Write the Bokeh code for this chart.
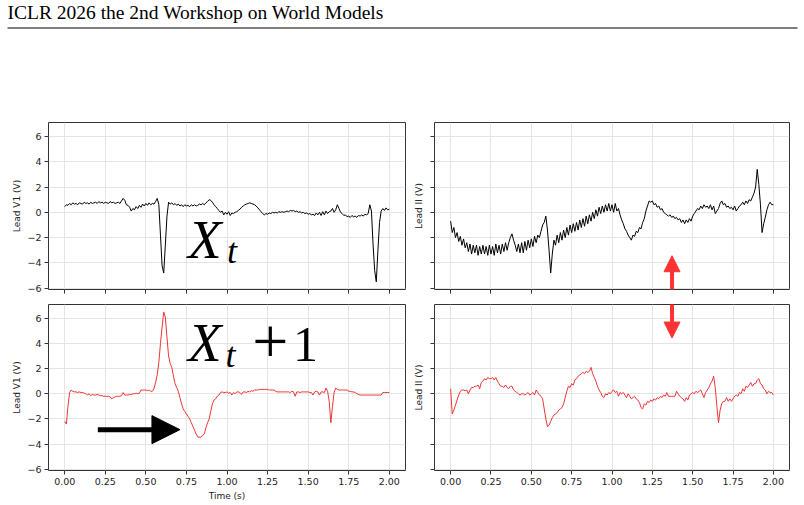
import numpy as np
from bokeh.plotting import figure
from bokeh.layouts import column, row
from bokeh.models import Range1d, FixedTicker, Arrow, NormalHead
from bokeh.core.properties import value
from bokeh.embed import file_html
from bokeh.resources import INLINE

# ---------------- data ----------------
time_s = np.round(np.arange(0, 201) * 0.01, 2)

lead_v1_true = [
    0.45, 0.6, 0.55, 0.7, 0.6, 0.75, 0.65, 0.7, 0.6, 0.75,
    0.7, 0.65, 0.8, 0.7, 0.75, 0.65, 0.8, 0.7, 0.75, 0.8,
    0.7, 0.85, 0.75, 0.8, 0.7, 0.8, 0.75, 0.7, 0.85, 0.75,
    0.8, 0.7, 0.75, 0.8, 0.7, 0.9, 1.1, 0.95, 0.6, 0.55,
    0.4, 0.1, 0.3, 0.2, 0.45, 0.3, 0.55, 0.4, 0.65, 0.5,
    0.7, 0.55, 0.75, 0.6, 0.7, 0.65, 0.85, 1.1, 0.6, -1.8,
    -4.2, -4.8, -2.6, -0.3, 0.8, 0.65, 0.75, 0.6, 0.7, 0.55,
    0.65, 0.5, 0.6, 0.45, 0.6, 0.5, 0.55, 0.45, 0.6, 0.5,
    0.6, 0.5, 0.55, 0.65, 0.6, 0.7, 0.6, 0.75, 0.85, 1.0,
    0.95, 0.8, 0.6, 0.45, 0.3, 0.15, 0.0, 0.1, -0.2, 0.0,
    -0.15, 0.05, -0.25, -0.05, -0.1, 0.0, 0.05, 0.15, 0.25, 0.4,
    0.5, 0.6, 0.65, 0.7, 0.75, 0.7, 0.65, 0.6, 0.5, 0.35,
    0.2, 0.05, -0.1, -0.2, -0.1, -0.15, -0.05, -0.1, 0.0, -0.05,
    0.0, -0.05, 0.05, 0.0, 0.05, 0.0, 0.05, 0.1, 0.05, 0.15,
    0.1, 0.15, 0.05, 0.1, 0.0, 0.05, -0.05, 0.0, -0.1, -0.05,
    -0.15, -0.1, -0.2, -0.15, -0.25, -0.05, -0.2, 0.0, -0.25, 0.05,
    -0.2, 0.1, -0.1, 0.05, 0.1, 0.3, 0.0, 0.2, 0.6, 0.3,
    0.0, -0.1, -0.25, -0.2, -0.35, -0.3, -0.4, -0.25, -0.35, -0.3,
    -0.4, -0.25, -0.3, -0.2, -0.3, -0.15, -0.2, -0.1, 0.6, 0.1,
    -2.5, -4.6, -5.5, -3.0, -0.8, 0.1, 0.3, 0.15, 0.35, 0.2,
    0.25,
]

lead_ii_true = [
    -0.7, -1.6, -1.2, -2.0, -1.6, -2.3, -1.9, -2.6, -2.1, -2.8,
    -2.4, -3.1, -2.5, -3.3, -2.6, -3.2, -2.6, -3.4, -2.7, -3.3,
    -2.6, -3.3, -2.7, -3.4, -2.6, -3.3, -2.7, -3.4, -2.5, -3.2,
    -2.6, -3.3, -2.5, -3.1, -2.4, -3.0, -2.4, -2.0, -1.7, -2.2,
    -2.6, -3.1, -2.5, -3.2, -2.4, -3.2, -2.3, -3.0, -2.2, -2.8,
    -2.1, -2.7, -1.9, -2.4, -1.8, -2.0, -1.5, -1.0, -0.8, -0.3,
    -1.4, -3.0, -4.8, -3.3, -2.2, -2.6, -1.8, -2.4, -1.6, -2.2,
    -1.4, -2.0, -1.2, -1.8, -1.0, -1.6, -0.9, -1.5, -0.8, -1.4,
    -0.6, -1.2, -0.5, -1.1, -0.3, -0.9, -0.2, -0.7, 0.0, -0.5,
    0.2, -0.3, 0.4, -0.1, 0.5, 0.0, 0.6, 0.1, 0.7, 0.1,
    0.6, 0.0, 0.7, 0.1, 0.3, -0.2, -0.6, -0.9, -1.3, -1.5,
    -1.8, -2.0, -2.2, -1.8, -1.9, -1.5, -1.6, -1.2, -1.3, -0.8,
    -0.5, 0.1, 0.5, 0.9, 0.8, 0.9, 0.6, 0.7, 0.4, 0.5,
    0.2, 0.3, 0.0, -0.1, -0.2, -0.3, -0.2, -0.4, -0.3, -0.5,
    -0.4, -0.6, -0.5, -0.8, -0.6, -0.9, -0.6, -0.8, -0.5, -0.7,
    -0.3, -0.1, 0.1, 0.3, 0.2, 0.5, 0.3, 0.6, 0.4, 0.5,
    0.3, 0.6, 0.2, 0.5, -0.1, 0.1, 0.3, 0.7, 0.9, 0.6,
    0.7, 0.4, 0.5, 0.3, 0.4, 0.2, 0.5, 0.1, 0.3, 0.5,
    0.6, 0.8, 0.6, 0.9, 0.7, 1.0, 0.9, 1.2, 1.5, 2.0,
    3.4, 2.2, 0.6, -1.6, -0.9, -0.4, 0.2, 0.6, 0.8, 0.6,
    0.6,
]

lead_v1_pred = [
    -2.2, -2.4, -1.0, 0.1, 0.3, 0.2, 0.15, 0.15, 0.1, 0.15,
    0.1, 0.1, 0.05, 0.0, -0.1, 0.0, -0.15, -0.05, -0.1, -0.1,
    -0.05, -0.1, -0.15, -0.15, -0.2, -0.2, -0.2, -0.2, -0.25, -0.4,
    -0.3, -0.25, -0.2, -0.2, -0.2, -0.15, 0.1, -0.1, -0.1, -0.1,
    -0.05, -0.05, 0.0, 0.0, 0.05, 0.0, 0.05, 0.3, 0.3, 0.3,
    0.3, 0.25, 0.3, 0.2, 0.2, 0.4, 0.9, 1.5, 2.5, 4.0,
    5.3, 6.5, 6.1, 4.5, 3.0, 2.4, 2.1, 1.4, 0.8, 0.5,
    0.2, -0.3, -0.8, -1.2, -1.4, -1.6, -1.8, -2.0, -2.3, -2.6,
    -2.9, -3.2, -3.45, -3.45, -3.45, -3.3, -3.2, -2.7, -2.3, -2.0,
    -1.4, -0.8, -0.5, -0.4, -0.2, -0.1, 0.1, 0.15, 0.1, 0.1,
    0.15, 0.05, 0.1, -0.1, 0.1, 0.0, 0.15, 0.15, 0.1, -0.05,
    0.15, 0.15, 0.1, 0.2, 0.15, 0.25, 0.2, 0.3, 0.3, 0.3,
    0.35, 0.35, 0.35, 0.35, 0.35, 0.35, 0.3, 0.3, 0.3, 0.3,
    0.2, 0.15, 0.15, 0.15, 0.15, 0.15, 0.15, 0.15, 0.15, 0.1,
    0.2, 0.15, -0.2, 0.15, 0.15, 0.1, 0.15, 0.15, 0.15, 0.15,
    0.15, 0.1, 0.1, -0.1, 0.15, 0.2, 0.15, -0.1, 0.15, 0.15,
    0.1, 0.45, 0.2, -0.6, -2.3, -1.0, 0.1, 0.45, 0.35, 0.3,
    0.3, 0.3, 0.3, 0.3, 0.3, 0.2, 0.2, 0.15, 0.15, 0.1,
    0.0, -0.05, -0.1, -0.1, -0.1, -0.1, -0.1, -0.1, -0.1, -0.1,
    -0.1, -0.1, -0.1, -0.1, -0.1, -0.1, 0.1, 0.1, 0.1, 0.1,
    0.1,
]

lead_ii_pred = [
    0.4, -1.6, -1.3, -0.9, -0.5, -0.1, 0.2, 0.3, 0.3, 0.25,
    0.3, 0.0, 0.3, 0.5, 0.5, 0.6, 0.6, 0.7, 0.4, 0.9,
    1.0, 1.2, 1.1, 1.3, 1.2, 1.2, 1.3, 1.1, 1.3, 1.0,
    0.8, 0.6, 0.6, 0.5, 0.7, 0.5, 0.4, 0.6, 0.6, 0.3,
    0.2, 0.1, 0.0, -0.1, 0.0, 0.0, -0.1, 0.0, 0.1, -0.1,
    0.0, 0.1, -0.1, 0.3, 0.1, -0.1, -0.2, -0.4, -1.2, -2.0,
    -2.6, -2.5, -2.2, -1.9, -1.7, -1.6, -1.5, -1.3, -1.2, -1.1,
    -0.8, -0.3, 0.2, 0.6, 0.5, 0.8, 0.7, 1.1, 1.2, 1.4,
    1.5, 1.6, 1.7, 1.6, 1.8, 1.7, 1.8, 2.1, 1.6, 1.3,
    1.0, 0.6, 0.3, 0.1, -0.2, -0.3, 0.0, -0.1, 0.1, 0.0,
    0.2, 0.3, 0.1, 0.2, -0.2, 0.1, 0.0, 0.1, -0.1, -0.3,
    0.0, -0.2, -0.4, -0.3, -0.2, -0.4, -0.5, -0.7, -1.1, -1.2,
    -0.8, -0.9, -0.6, -0.7, -0.5, -0.6, -0.4, -0.5, -0.3, -0.4,
    -0.2, -0.3, -0.1, -0.2, 0.1, -0.2, -0.2, -0.2, -0.2, -0.2,
    0.2, 0.0, -0.2, -0.3, -0.4, -0.6, -0.3, -0.5, -0.1, 0.0,
    0.1, 0.0, 0.2, 0.1, 0.2, 0.3, 0.0, -0.3, 0.1, 0.3,
    0.5, 0.8, 1.0, 1.4, 0.5, -1.0, -2.3, -1.3, -0.8, -0.6,
    -0.6, -0.3, -0.6, -0.4, -0.6, -0.4, -0.2, -0.1, -0.2, 0.1,
    0.0, 0.4, 0.2, 0.6, 0.5, 0.7, 0.9, 0.6, 0.8, 0.8,
    1.1, 1.2, 0.8, 0.7, 0.4, 0.3, 0.0, 0.2, 0.1, 0.1,
    -0.1,
]

x_ticks = [0.0, 0.25, 0.5, 0.75, 1.0, 1.25, 1.5, 1.75, 2.0]
x_tick_labels = ["0.00", "0.25", "0.50", "0.75", "1.00", "1.25", "1.50", "1.75", "2.00"]
y_ticks = [-6, -4, -2, 0, 2, 4, 6]
y_tick_labels = ["\u22126", "\u22124", "\u22122", "0", "2", "4", "6"]

header_text = "ICLR 2026 the 2nd Workshop on World Models"
x_label = "Time (s)"
y_label_v1 = "Lead V1 (V)"
y_label_ii = "Lead II (V)"

TRUE_COLOR = "black"
PRED_COLOR = "#ee3535"
ARROW_RED = "#ff3333"
TICK_FONT = "DejaVu Sans"


def panel(w, h, bl, br, bt, bb, ylabel, show_xl, show_yl, xlabel=None):
    p = figure(width=w, height=h, x_range=Range1d(-0.1, 2.1), y_range=Range1d(-6.1, 7.1),
               output_backend="svg", toolbar_location=None,
               min_border_left=bl, min_border_right=br, min_border_top=bt, min_border_bottom=bb)
    p.background_fill_color = "white"
    p.border_fill_color = "white"
    p.outline_line_color = "#333333"
    p.outline_line_width = 1
    p.grid.grid_line_color = "#e4e4e4"
    p.grid.grid_line_width = 1
    p.xaxis.ticker = FixedTicker(ticks=x_ticks)
    p.yaxis.ticker = FixedTicker(ticks=y_ticks)
    for ax in (p.xaxis, p.yaxis):
        ax.axis_line_color = None
        ax.major_tick_line_color = "#333333"
        ax.major_tick_out = 4
        ax.major_tick_in = 0
        ax.minor_tick_line_color = None
        ax.major_label_text_font = TICK_FONT
        ax.major_label_text_font_size = "9.5px"
        ax.major_label_text_color = "#222222"
        ax.axis_label_text_font = TICK_FONT
        ax.axis_label_text_font_size = "9px"
        ax.axis_label_text_font_style = "normal"
        ax.axis_label_text_color = "#222222"
    p.yaxis.axis_label = ylabel
    if show_xl:
        p.xaxis.major_label_overrides = {t: s for t, s in zip(x_ticks, x_tick_labels)}
        p.xaxis.major_label_standoff = 3
    else:
        p.xaxis.major_label_overrides = {t: "" for t in x_ticks}
        p.xaxis.major_label_text_font_size = "6px"
        p.xaxis.major_label_standoff = 0
    if show_yl:
        p.yaxis.major_label_overrides = {t: s for t, s in zip(y_ticks, y_tick_labels)}
        p.yaxis.major_label_standoff = 3
        p.yaxis.axis_label_standoff = 2
    else:
        p.yaxis.major_label_overrides = {t: "" for t in y_ticks}
        p.yaxis.major_label_text_font_size = "6px"
        p.yaxis.major_label_standoff = 0
        p.yaxis.axis_label_standoff = 7
    if xlabel:
        p.xaxis.axis_label = xlabel
        p.xaxis.axis_label_standoff = 3
    return p


# header
hdr = figure(width=804, height=100, x_range=Range1d(0, 804), y_range=Range1d(100, 0),
             output_backend="svg", toolbar_location=None,
             min_border=0, min_border_left=0, min_border_right=0, min_border_top=0, min_border_bottom=0)
hdr.axis.visible = False
hdr.grid.visible = False
hdr.outline_line_color = None
hdr.text(x=[7], y=[12.2], text=[header_text], text_font=value("Liberation Serif"),
         text_font_size="19.5px", text_color="black", text_align="left", text_baseline="alphabetic")
hdr.segment(x0=[7], y0=[27.5], x1=[797], y1=[27.5], line_color="black", line_width=1.2)

tl = panel(410, 204, 48, 5, 22, 15, y_label_v1, False, True)
tr = panel(394, 204, 22, 15, 22, 15, y_label_ii, False, False)
bl = panel(410, 201, 48, 5, 0, 35, y_label_v1, True, True, xlabel=x_label)
br = panel(394, 201, 22, 15, 0, 35, y_label_ii, True, False)

tl.line(time_s, lead_v1_true, line_color=TRUE_COLOR, line_width=1)
tr.line(time_s, lead_ii_true, line_color=TRUE_COLOR, line_width=1)
bl.line(time_s, lead_v1_pred, line_color=PRED_COLOR, line_width=1)
br.line(time_s, lead_ii_pred, line_color=PRED_COLOR, line_width=1)

# math-like annotations
serif = value("Liberation Serif")
tl.text(x=[0.76], y=[-2.16], text=["X"], text_font=serif, text_font_style="italic",
        text_font_size="55px", text_color="black", text_baseline="alphabetic")
tl.text(x=[1.0], y=[-3.03], text=["t"], text_font=serif, text_font_style="italic",
        text_font_size="36px", text_color="black", text_baseline="alphabetic")

bl.text(x=[0.76], y=[4.04], text=["X"], text_font=serif, text_font_style="italic",
        text_font_size="55px", text_color="black", text_baseline="alphabetic")
bl.text(x=[0.99], y=[3.09], text=["t"], text_font=serif, text_font_style="italic",
        text_font_size="36px", text_color="black", text_baseline="alphabetic")
bl.text(x=[1.155], y=[4.12], text=["+"], text_font=serif,
        text_font_size="64px", text_color="black", text_baseline="alphabetic")
bl.text(x=[1.407], y=[3.92], text=["1"], text_font=serif,
        text_font_size="50px", text_color="black", text_baseline="alphabetic")

# black arrow
bl.add_layout(Arrow(end=NormalHead(size=28, fill_color="black", line_color="black"),
                    x_start=0.204, y_start=-2.85, x_end=0.71, y_end=-2.85,
                    line_color="black", line_width=5))

# red double arrow, split across the two right panels
tr.add_layout(Arrow(end=NormalHead(size=16, fill_color=ARROW_RED, line_color=ARROW_RED),
                    x_start=1.372, y_start=-9.0, x_end=1.372, y_end=-3.43,
                    line_color=ARROW_RED, line_width=4))
br.add_layout(Arrow(end=NormalHead(size=16, fill_color=ARROW_RED, line_color=ARROW_RED),
                    x_start=1.372, y_start=9.0, x_end=1.372, y_end=4.43,
                    line_color=ARROW_RED, line_width=4))

layout = column(hdr, row(tl, tr), row(bl, br))
open("out.html", "w").write(file_html(layout, INLINE))
